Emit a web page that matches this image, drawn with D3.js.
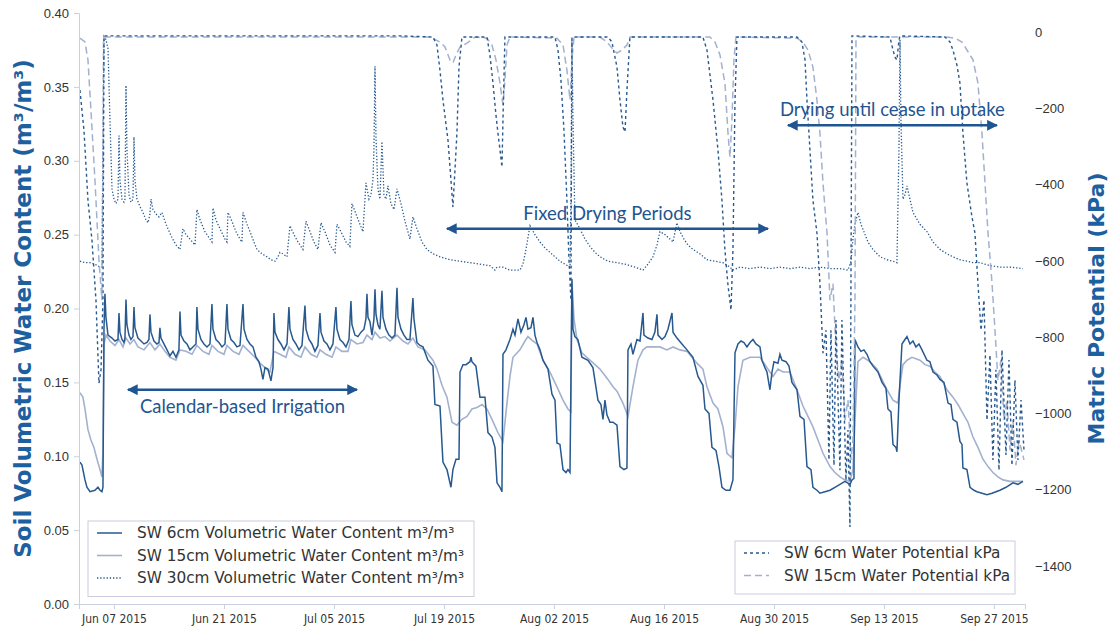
<!DOCTYPE html>
<html>
<head>
<meta charset="utf-8">
<script src="https://cdn.jsdelivr.net/npm/d3@7"></script>
<style>
  body { margin: 0; background: #fff; }
  svg { display: block; font-family: "DejaVu Sans", sans-serif; }
</style>
</head>
<body>
<svg id="chart"></svg>
<script>
// times are days since 2015-06-01 00:00
const baseDate = new Date(2015, 5, 1);
const xDomainDays = [1.55, 121.95];
const xTickDates = ["2015-06-07", "2015-06-21", "2015-07-05", "2015-07-19", "2015-08-02",
  "2015-08-16", "2015-08-30", "2015-09-13", "2015-09-27"];
const vwcTicks = [0, 0.05, 0.1, 0.15, 0.2, 0.25, 0.3, 0.35, 0.4];
const kpaTicks = [0, -200, -400, -600, -800, -1000, -1200, -1400];

const sw6Vwc = [[1.67,0.096],[1.93,0.094],[2.31,0.084],[2.56,0.079],[2.95,0.076],[3.58,0.077],[3.96,0.079],[4.22,0.077],[4.47,0.076],[4.60,0.079],
[4.73,0.186],[4.85,0.210],[4.98,0.194],[5.24,0.182],[5.75,0.180],[6.13,0.178],[6.51,0.179],[6.64,0.197],[6.76,0.184],[7.02,0.179],[7.27,0.177],[7.40,0.180],[7.53,0.206],[7.65,0.189],[7.91,0.182],[8.16,0.179],[8.42,0.181],[8.55,0.201],[8.67,0.187],[9.05,0.180],[9.44,0.178],[9.82,0.176],[10.20,0.177],[10.45,0.179],[10.58,0.196],[10.71,0.184],[11.09,0.178],[11.47,0.176],[11.73,0.177],[11.85,0.187],[11.98,0.180],[12.36,0.176],[12.75,0.172],[13.13,0.168],[13.51,0.171],[13.89,0.167],[14.27,0.172],[14.40,0.198],[14.53,0.182],[14.91,0.178],[15.29,0.176],[15.67,0.172],[16.05,0.174],[16.44,0.176],[16.56,0.201],[16.69,0.186],[17.07,0.179],[17.45,0.176],[17.84,0.174],[18.22,0.176],[18.47,0.203],[18.60,0.186],[18.98,0.179],[19.36,0.177],[19.75,0.174],[20.13,0.176],[20.38,0.203],[20.51,0.186],[20.89,0.179],[21.27,0.177],[21.65,0.174],[22.04,0.175],[22.42,0.203],[22.55,0.186],[22.93,0.179],[23.31,0.176],[23.69,0.174],[24.07,0.167],[24.45,0.164],[24.71,0.159],[24.96,0.152],[25.22,0.160],[25.60,0.159],[25.98,0.151],[26.24,0.160],[26.36,0.197],[26.49,0.184],[26.87,0.179],[27.25,0.176],[27.64,0.172],[28.02,0.176],[28.27,0.201],[28.40,0.186],[28.78,0.179],[29.16,0.176],[29.55,0.172],[29.93,0.175],[30.31,0.202],[30.44,0.186],[30.82,0.179],[31.20,0.176],[31.58,0.171],[31.96,0.175],[32.22,0.197],[32.35,0.184],[32.73,0.178],[33.11,0.176],[33.49,0.172],[33.87,0.176],[34.25,0.201],[34.38,0.186],[34.76,0.179],[35.15,0.177],[35.53,0.174],[35.91,0.179],[36.16,0.205],[36.29,0.189],[36.67,0.182],[37.05,0.181],[37.44,0.184],[37.82,0.186],[38.07,0.193],[38.20,0.210],[38.33,0.194],[38.58,0.191],[38.84,0.182],[39.09,0.193],[39.22,0.213],[39.35,0.196],[39.60,0.189],[39.85,0.186],[40.11,0.212],[40.24,0.194],[40.62,0.186],[41.00,0.182],[41.38,0.180],[41.76,0.182],[42.02,0.214],[42.15,0.194],[42.53,0.186],[42.91,0.182],[43.29,0.179],[43.67,0.179],[44.05,0.207],[44.18,0.193],[44.56,0.177],[44.95,0.175],[45.33,0.174],[45.96,0.165],[46.60,0.161],[46.85,0.135],[47.49,0.134],[47.87,0.096],[48.38,0.091],[48.89,0.079],[49.14,0.091],[49.53,0.098],[49.91,0.098],[50.04,0.157],[50.42,0.162],[50.80,0.162],[51.31,0.164],[51.44,0.167],[51.56,0.164],[52.07,0.161],[52.58,0.140],[53.22,0.140],[53.60,0.116],[54.11,0.113],[54.49,0.106],[54.75,0.082],[55.13,0.079],[55.38,0.076],[55.51,0.169],[55.89,0.172],[56.40,0.179],[56.78,0.186],[57.04,0.182],[57.42,0.193],[57.80,0.184],[58.18,0.189],[58.44,0.194],[58.69,0.186],[59.07,0.187],[59.33,0.194],[59.58,0.182],[59.84,0.177],[60.22,0.172],[60.60,0.165],[61.24,0.159],[61.75,0.142],[62.13,0.138],[62.38,0.109],[62.76,0.108],[63.15,0.091],[63.53,0.089],[63.78,0.091],[64.04,0.089],[64.29,0.220],[64.42,0.186],[64.67,0.181],[65.05,0.179],[65.56,0.167],[66.33,0.165],[66.96,0.160],[67.60,0.138],[67.98,0.135],[68.24,0.125],[68.49,0.138],[68.74,0.128],[69.13,0.123],[69.51,0.123],[70.02,0.121],[70.40,0.093],[70.91,0.091],[71.29,0.092],[71.42,0.172],[71.80,0.176],[72.05,0.169],[72.56,0.179],[72.95,0.178],[73.33,0.197],[73.45,0.182],[73.96,0.180],[74.47,0.179],[74.85,0.184],[75.11,0.196],[75.24,0.182],[75.75,0.179],[76.13,0.181],[76.51,0.186],[77.02,0.197],[77.15,0.184],[77.65,0.180],[78.29,0.176],[78.93,0.172],[79.69,0.167],[80.33,0.154],[80.96,0.148],[81.22,0.132],[81.73,0.129],[82.11,0.106],[82.62,0.104],[83.00,0.093],[83.38,0.079],[83.89,0.077],[84.40,0.077],[84.78,0.084],[85.04,0.170],[85.42,0.176],[85.80,0.178],[86.18,0.177],[86.56,0.174],[86.95,0.177],[87.33,0.179],[87.71,0.176],[88.22,0.174],[88.47,0.165],[88.85,0.160],[89.11,0.157],[89.49,0.145],[89.75,0.157],[90.00,0.164],[90.51,0.163],[90.76,0.169],[91.02,0.165],[91.53,0.164],[91.91,0.161],[92.29,0.150],[92.93,0.145],[93.31,0.127],[93.82,0.125],[94.20,0.093],[94.71,0.091],[94.96,0.079],[95.47,0.077],[95.85,0.075],[96.49,0.076],[97.13,0.077],[97.76,0.079],[98.40,0.081],[99.04,0.083],[99.67,0.081],[99.93,0.084],[100.18,0.085],[100.31,0.179],[100.69,0.174],[101.07,0.171],[101.45,0.172],[101.84,0.169],[102.22,0.164],[102.60,0.161],[103.24,0.157],[103.75,0.150],[104.25,0.146],[104.51,0.132],[104.89,0.130],[105.15,0.108],[105.53,0.106],[105.65,0.103],[105.91,0.138],[106.29,0.176],[106.67,0.179],[106.93,0.181],[107.31,0.176],[107.69,0.178],[108.07,0.174],[108.45,0.176],[108.84,0.172],[109.47,0.165],[109.85,0.164],[110.24,0.157],[110.75,0.155],[111.13,0.152],[111.64,0.150],[112.15,0.136],[112.53,0.135],[112.78,0.125],[113.29,0.123],[113.67,0.110],[113.93,0.108],[114.05,0.092],[114.56,0.091],[114.95,0.079],[115.45,0.077],[115.84,0.076],[116.47,0.075],[117.11,0.074],[117.75,0.075],[118.76,0.077],[119.53,0.079],[120.42,0.082],[121.05,0.081],[121.69,0.083]];

const sw15Vwc = [[1.67,0.143],[2.05,0.140],[2.31,0.132],[2.69,0.118],[3.07,0.111],[3.45,0.106],[3.84,0.098],[4.22,0.091],[4.47,0.086],[4.60,0.104],
[4.73,0.176],[4.98,0.182],[5.49,0.178],[6.13,0.175],[6.64,0.179],[7.15,0.174],[7.53,0.180],[8.04,0.176],[8.55,0.179],[9.05,0.174],[9.82,0.172],[10.58,0.177],[11.22,0.172],[11.85,0.176],[12.49,0.171],[13.13,0.167],[13.89,0.165],[14.40,0.172],[15.16,0.171],[15.93,0.169],[16.56,0.175],[17.33,0.171],[18.09,0.169],[18.47,0.175],[19.24,0.171],[20.00,0.169],[20.38,0.175],[21.15,0.171],[21.91,0.169],[22.42,0.175],[23.18,0.171],[23.95,0.167],[24.58,0.163],[25.22,0.160],[25.85,0.157],[26.36,0.171],[27.13,0.169],[27.89,0.167],[28.27,0.174],[29.04,0.169],[29.80,0.167],[30.31,0.174],[31.07,0.169],[31.84,0.167],[32.22,0.172],[32.98,0.169],[33.75,0.167],[34.25,0.174],[35.02,0.171],[35.78,0.171],[36.16,0.179],[36.93,0.176],[37.69,0.177],[38.20,0.182],[38.84,0.179],[39.22,0.184],[39.85,0.180],[40.49,0.181],[41.13,0.178],[42.02,0.182],[42.78,0.178],[43.42,0.176],[44.05,0.180],[44.69,0.174],[45.58,0.172],[46.60,0.165],[47.11,0.159],[47.75,0.148],[48.38,0.140],[49.02,0.123],[49.65,0.121],[50.29,0.125],[50.93,0.127],[51.56,0.132],[52.20,0.133],[52.84,0.135],[53.47,0.132],[54.11,0.125],[54.87,0.116],[55.51,0.110],[56.02,0.136],[56.40,0.154],[56.78,0.167],[57.67,0.172],[58.31,0.178],[58.69,0.181],[59.33,0.178],[59.84,0.176],[60.60,0.165],[61.49,0.157],[62.38,0.147],[63.15,0.138],[63.78,0.132],[64.16,0.130],[64.29,0.218],[64.55,0.193],[64.93,0.179],[65.56,0.170],[66.58,0.165],[67.22,0.162],[67.85,0.159],[68.87,0.152],[69.51,0.147],[70.02,0.144],[70.78,0.136],[71.42,0.127],[71.67,0.135],[72.05,0.147],[72.69,0.165],[73.33,0.172],[73.84,0.174],[74.60,0.174],[75.49,0.174],[76.38,0.172],[77.15,0.174],[78.04,0.172],[78.93,0.171],[79.56,0.167],[80.20,0.163],[80.96,0.159],[81.47,0.147],[82.24,0.136],[82.87,0.132],[83.51,0.120],[84.02,0.102],[84.65,0.099],[85.04,0.120],[85.42,0.147],[86.05,0.165],[86.95,0.167],[88.22,0.167],[89.11,0.160],[89.87,0.154],[90.51,0.159],[91.15,0.157],[92.04,0.157],[92.93,0.145],[93.69,0.134],[94.33,0.127],[94.96,0.120],[95.60,0.111],[96.24,0.102],[97.13,0.093],[97.76,0.089],[98.40,0.086],[99.04,0.084],[99.67,0.083],[100.05,0.091],[100.31,0.125],[100.69,0.164],[101.33,0.167],[102.22,0.164],[103.11,0.159],[103.75,0.152],[104.38,0.145],[105.15,0.138],[105.78,0.136],[106.04,0.148],[106.42,0.162],[106.93,0.165],[107.56,0.167],[108.58,0.165],[109.22,0.162],[109.85,0.161],[110.49,0.157],[111.13,0.154],[112.02,0.145],[112.78,0.140],[113.42,0.135],[114.05,0.129],[114.69,0.123],[115.33,0.113],[115.96,0.106],[116.60,0.098],[117.24,0.093],[117.87,0.089],[118.51,0.086],[119.15,0.084],[120.04,0.083],[121.69,0.083]];

const sw30Vwc = [[1.67,0.232],[2.31,0.231],[2.95,0.231],[3.58,0.230],[4.22,0.228],[4.47,0.228],[4.60,0.308],[4.73,0.384],[4.98,0.382],[5.24,0.376],[5.49,0.328],[5.75,0.281],[6.00,0.274],[6.25,0.271],[6.51,0.274],[6.64,0.317],[6.76,0.287],[7.02,0.274],[7.27,0.272],[7.40,0.274],[7.53,0.351],[7.65,0.308],[7.91,0.277],[8.16,0.272],[8.42,0.274],[8.55,0.316],[8.67,0.287],[8.93,0.274],[9.31,0.269],[9.69,0.265],[10.07,0.260],[10.33,0.258],[10.58,0.264],[10.71,0.274],[10.96,0.267],[11.35,0.264],[11.73,0.262],[12.11,0.265],[12.49,0.259],[12.87,0.254],[13.38,0.248],[13.89,0.243],[14.40,0.240],[14.78,0.254],[15.16,0.250],[15.67,0.247],[16.31,0.243],[16.56,0.267],[16.95,0.260],[17.58,0.252],[18.22,0.247],[18.47,0.245],[18.60,0.268],[18.98,0.260],[19.49,0.254],[20.13,0.247],[20.38,0.245],[20.51,0.265],[21.02,0.259],[21.53,0.252],[22.04,0.247],[22.29,0.245],[22.42,0.265],[22.93,0.257],[23.31,0.252],[23.82,0.245],[24.20,0.240],[24.84,0.237],[25.47,0.235],[25.98,0.233],[26.49,0.232],[26.87,0.235],[27.13,0.238],[27.51,0.237],[28.02,0.235],[28.40,0.256],[28.91,0.250],[29.42,0.245],[30.05,0.240],[30.44,0.259],[30.95,0.252],[31.45,0.245],[31.96,0.240],[32.35,0.258],[32.85,0.252],[33.49,0.243],[34.13,0.238],[34.38,0.257],[34.89,0.252],[35.53,0.245],[36.02,0.242],[36.29,0.271],[36.80,0.264],[37.31,0.257],[37.69,0.252],[38.07,0.285],[38.45,0.274],[38.71,0.277],[38.96,0.287],[39.09,0.308],[39.22,0.364],[39.35,0.315],[39.60,0.281],[39.85,0.274],[40.11,0.313],[40.36,0.277],[40.62,0.274],[40.87,0.283],[41.25,0.271],[41.64,0.267],[42.02,0.281],[42.53,0.271],[43.04,0.259],[43.67,0.247],[44.05,0.262],[44.56,0.254],[45.20,0.245],[45.84,0.240],[46.60,0.237],[47.49,0.235],[48.76,0.233],[50.04,0.232],[51.31,0.231],[52.58,0.230],[53.85,0.229],[54.49,0.226],[54.75,0.228],[55.51,0.228],[56.40,0.226],[57.04,0.226],[57.67,0.226],[58.05,0.230],[58.44,0.240],[58.95,0.256],[59.58,0.250],[60.22,0.245],[60.86,0.241],[61.49,0.238],[62.13,0.235],[62.76,0.232],[63.40,0.230],[64.04,0.228],[64.16,0.274],[64.29,0.382],[64.42,0.328],[64.67,0.260],[65.31,0.254],[65.95,0.247],[66.58,0.242],[67.22,0.238],[67.85,0.235],[68.87,0.232],[70.02,0.231],[71.04,0.230],[72.31,0.228],[73.33,0.226],[73.96,0.230],[74.60,0.235],[75.11,0.243],[75.49,0.252],[76.13,0.250],[76.76,0.247],[77.15,0.245],[77.65,0.258],[78.04,0.252],[78.55,0.247],[79.05,0.243],[79.69,0.240],[80.58,0.237],[81.47,0.233],[82.49,0.232],[83.51,0.231],[84.40,0.228],[84.78,0.226],[85.67,0.228],[86.95,0.227],[88.22,0.228],[89.49,0.227],[90.76,0.228],[92.04,0.227],[93.31,0.228],[94.58,0.227],[95.85,0.228],[97.13,0.227],[98.40,0.227],[99.42,0.226],[99.80,0.232],[100.05,0.247],[100.31,0.257],[100.69,0.265],[101.07,0.257],[101.45,0.252],[101.96,0.245],[102.60,0.240],[103.49,0.235],[104.38,0.233],[105.15,0.232],[105.65,0.231],[105.91,0.308],[106.04,0.382],[106.16,0.328],[106.42,0.274],[106.67,0.277],[106.93,0.283],[107.18,0.277],[107.69,0.265],[108.58,0.257],[109.47,0.252],[110.24,0.245],[111.13,0.240],[112.02,0.237],[112.78,0.235],[113.67,0.233],[114.56,0.232],[115.33,0.231],[116.22,0.231],[117.49,0.229],[118.76,0.228],[120.04,0.228],[121.69,0.227]];

const sw6Kpa = [[1.67,-152],[2.18,-257],[2.69,-441],[3.20,-546],[3.71,-703],[4.09,-921],[4.35,-886],[4.60,-703],[4.73,-10],[16.95,-10],[29.67,-10],[42.40,-10],[46.60,-13],
[47.11,-34],[47.49,-100],[47.87,-178],[48.51,-283],[48.89,-388],[49.14,-459],[49.40,-362],[49.65,-265],[49.91,-92],[50.29,-13],[53.47,-13],[53.85,-60],[54.24,-134],[54.62,-218],[54.87,-265],[55.13,-309],[55.38,-354],[55.51,-231],[55.76,-13],[62.13,-13],[62.51,-47],[62.89,-126],[63.27,-257],[63.65,-441],[63.91,-598],[64.16,-703],[64.29,-13],[68.87,-13],[69.38,-26],[70.02,-92],[70.40,-178],[70.78,-249],[71.04,-262],[71.29,-152],[71.67,-13],[80.96,-13],[81.47,-47],[82.24,-178],[82.87,-309],[83.38,-441],[83.76,-572],[84.15,-664],[84.53,-729],[84.78,-572],[85.04,-178],[85.29,-13],[92.93,-13],[93.56,-26],[93.95,-73],[94.20,-178],[94.58,-309],[94.96,-441],[95.47,-527],[95.85,-658],[96.24,-842],[96.62,-782],[97.00,-1122],[97.25,-782],[97.64,-1136],[97.89,-755],[98.40,-1149],[98.65,-755],[99.16,-1175],[99.42,-1044],[99.67,-1298],[99.93,-10],[104.76,-13],[105.15,-47],[105.40,-66],[105.65,-73],[105.91,-21],[106.04,-10],[111.76,-13],[112.40,-26],[112.78,-47],[113.29,-87],[113.67,-134],[114.05,-265],[114.56,-396],[115.20,-485],[115.58,-527],[115.96,-658],[116.35,-782],[116.73,-703],[117.11,-1018],[117.49,-847],[117.87,-1122],[118.25,-886],[118.64,-1149],[119.02,-834],[119.53,-1109],[119.91,-860],[120.29,-1136],[120.67,-913],[121.05,-1122],[121.44,-965],[121.82,-1096]];

const sw15Kpa = [[1.67,-16],[2.31,-26],[2.69,-73],[3.07,-205],[3.58,-388],[4.09,-598],[4.47,-703],[4.67,-21],[4.73,-13],[16.95,-13],[29.67,-13],[46.22,-13],
[47.49,-26],[48.13,-39],[48.76,-73],[49.14,-81],[49.53,-60],[50.04,-39],[50.93,-29],[51.95,-13],[53.47,-16],[54.11,-34],[54.62,-73],[55.13,-134],[55.51,-191],[55.76,-126],[56.02,-34],[56.40,-13],[62.38,-16],[63.15,-34],[63.65,-100],[64.04,-178],[64.29,-73],[64.55,-13],[67.85,-13],[68.74,-26],[69.38,-42],[70.02,-55],[70.65,-47],[71.29,-34],[71.67,-13],[81.85,-13],[82.49,-26],[83.13,-60],[83.76,-134],[84.15,-265],[84.40,-328],[84.65,-231],[84.91,-73],[85.16,-13],[92.93,-16],[93.69,-26],[94.33,-47],[94.96,-92],[95.47,-178],[95.85,-265],[96.24,-396],[96.75,-527],[97.13,-703],[97.51,-660],[97.89,-834],[98.27,-913],[98.65,-860],[99.04,-1018],[99.42,-965],[99.80,-1122],[100.05,-1070],[100.31,-703],[100.44,-21],[100.69,-13],[112.02,-13],[113.04,-16],[113.93,-26],[114.56,-47],[115.33,-73],[115.96,-134],[116.47,-265],[116.86,-396],[117.24,-527],[117.75,-658],[118.13,-782],[118.51,-913],[118.89,-860],[119.27,-1018],[119.65,-965],[120.04,-1096],[120.42,-1018],[120.80,-1136],[121.18,-1070],[121.82,-1122]];

// annotations: [label, from day, to day, vwc level, text side]
const notes = [
  ["Calendar-based Irrigation", 7.78, 36.93, 0.145, "below"],
  ["Fixed Drying Periods", 48.38, 89.24, 0.254, "above"],
  ["Drying until cease in uptake", 91.78, 118.37, 0.324, "above"]
];

const width = 1108;
const height = 635;
const margin = { top: 13, right: 83, bottom: 31, left: 79 };
const dark = "#27598f";
const light = "#a3b1cf";
const noteColor = "#1f5591";
const titleColor = "#1d60a0";
const spineColor = "#c9d0df";

const svg = d3.select("#chart").attr("width", width).attr("height", height);

const toDate = (d) => new Date(baseDate.getTime() + d * 864e5);

const x = d3.scaleTime()
  .domain(xDomainDays.map(toDate))
  .range([margin.left, width - margin.right]);
const yL = d3.scaleLinear().domain([0, 0.4]).range([height - margin.bottom, margin.top]);
const yR = d3.scaleLinear().domain([-1500, 50]).range([height - margin.bottom, margin.top]);

const series = [
  { name: "SW 15cm Volumetric Water Content m³/m³", data: sw15Vwc, y: yL, color: light, dash: null, w: 1.6 },
  { name: "SW 6cm Volumetric Water Content m³/m³", data: sw6Vwc, y: yL, color: dark, dash: null, w: 1.5 },
  { name: "SW 30cm Volumetric Water Content m³/m³", data: sw30Vwc, y: yL, color: dark, dash: "1.3,1.9", w: 1.3 },
  { name: "SW 15cm Water Potential kPa", data: sw15Kpa, y: yR, color: light, dash: "7,4", w: 1.5 },
  { name: "SW 6cm Water Potential kPa", data: sw6Kpa, y: yR, color: dark, dash: "3,3", w: 1.4 }
];

// lines
series.forEach((s) => {
  const line = d3.line().x((d) => x(toDate(d[0]))).y((d) => s.y(d[1]));
  svg.append("path")
    .datum(s.data)
    .attr("d", line)
    .attr("fill", "none")
    .attr("stroke", s.color)
    .attr("stroke-width", s.w)
    .attr("stroke-dasharray", s.dash);
});

// x axis
const parse = d3.timeParse("%Y-%m-%d");
const gx = svg.append("g")
  .attr("transform", `translate(0,${height - margin.bottom})`)
  .call(d3.axisBottom(x).tickValues(xTickDates.map(parse)).tickFormat(d3.timeFormat("%b %d %Y")).tickSizeOuter(0).tickSize(5).tickPadding(5));
gx.selectAll("text").attr("font-size", 12).attr("fill", "#333").attr("font-family", "'DejaVu Sans Condensed', 'DejaVu Sans', sans-serif");

// left axis
const gl = svg.append("g")
  .attr("transform", `translate(${margin.left},0)`)
  .call(d3.axisLeft(yL).tickValues(vwcTicks).tickFormat(d3.format(".2f")).tickSizeOuter(0).tickSize(5).tickPadding(5));
gl.selectAll("text").attr("font-size", 13).attr("fill", "#333");

// right axis, no spine
const gr = svg.append("g")
  .attr("transform", `translate(${width - margin.right},0)`)
  .call(d3.axisRight(yR).tickValues(kpaTicks).tickFormat(d3.format("d")).tickSize(0).tickPadding(10));
gr.select(".domain").remove();
gr.selectAll("text").attr("font-size", 13).attr("fill", "#333");

[gx, gl].forEach((g) => {
  g.select(".domain").attr("stroke", spineColor);
  g.selectAll(".tick line").attr("stroke", spineColor);
});

// axis titles
svg.append("text")
  .attr("transform", `translate(31,${(margin.top + height - margin.bottom) / 2}) rotate(-90)`)
  .attr("text-anchor", "middle")
  .attr("font-size", 23).attr("font-weight", "bold").attr("fill", titleColor)
  .text("Soil Volumetric Water Content (m³/m³)");
svg.append("text")
  .attr("transform", `translate(1104,${(margin.top + height - margin.bottom) / 2}) rotate(-90)`)
  .attr("text-anchor", "middle")
  .attr("font-size", 22).attr("font-weight", "bold").attr("fill", titleColor)
  .text("Matric Potential (kPa)");

// annotation arrows
const defs = svg.append("defs");
defs.append("marker")
  .attr("id", "head")
  .attr("viewBox", "0 0 10 10")
  .attr("refX", 9).attr("refY", 5)
  .attr("markerWidth", 5).attr("markerHeight", 4.5)
  .attr("orient", "auto-start-reverse")
  .append("path").attr("d", "M0,0L10,5L0,10Z").attr("fill", noteColor);

notes.forEach(([label, a, b, v, pos]) => {
  const x0 = x(toDate(a));
  const x1 = x(toDate(b));
  const yy = yL(v);
  svg.append("line")
    .attr("x1", x0).attr("x2", x1).attr("y1", yy).attr("y2", yy)
    .attr("stroke", noteColor).attr("stroke-width", 2.4)
    .attr("marker-start", "url(#head)").attr("marker-end", "url(#head)");
  svg.append("text")
    .attr("x", (x0 + x1) / 2)
    .attr("y", pos === "below" ? yy + 23 : yy - 9)
    .attr("text-anchor", "middle")
    .attr("font-family", "Lato, 'Open Sans', sans-serif")
    .attr("font-size", 18.5)
    .attr("fill", noteColor)
    .text(label);
});

// legends
function legend(items, left, top, w) {
  const rowH = 22.5;
  const g = svg.append("g");
  g.append("rect")
    .attr("x", left).attr("y", top)
    .attr("width", w).attr("height", items.length * rowH + 8)
    .attr("fill", "#fff").attr("fill-opacity", 0.85)
    .attr("stroke", "#ccd").attr("stroke-width", 1);
  items.forEach((s, i) => {
    const cy = top + 12 + i * rowH;
    g.append("line")
      .attr("x1", left + 9).attr("x2", left + 34)
      .attr("y1", cy).attr("y2", cy)
      .attr("stroke", s.color).attr("stroke-width", s.w)
      .attr("stroke-dasharray", s.dash);
    g.append("text")
      .attr("x", left + 49).attr("y", cy + 5)
      .attr("font-size", 15.3).attr("fill", "#333")
      .text(s.name);
  });
}
legend([series[1], series[0], series[2]], 88, 521, 386);
legend([series[4], series[3]], 735, 541, 280);
</script>
</body>
</html>
